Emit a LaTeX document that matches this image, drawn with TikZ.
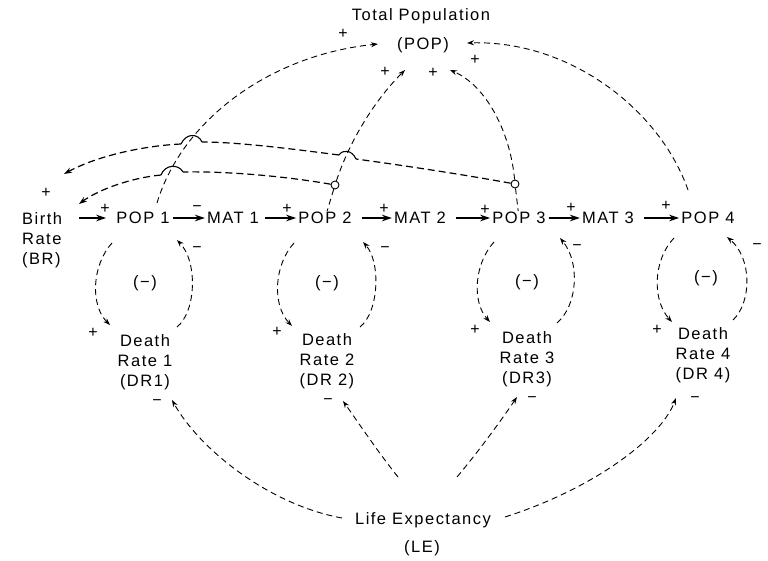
\documentclass[tikz,border=0pt]{standalone}
\usepackage{fontspec}
\setmainfont{Liberation Sans}[LetterSpace=9]
\usetikzlibrary{arrows.meta,calc}
\begin{document}
\begin{tikzpicture}[x=1pt,y=-1pt,
  lab/.style={font=\fontsize{16.5}{20}\selectfont, inner sep=0pt, align=center},
  sgn/.style={font=\fontsize{16}{16}\selectfont, inner sep=0pt},
  depn/.style={dash pattern=on 6pt off 4pt, line width=0.9pt},
  dep/.style={depn, -{Stealth[length=7pt,width=5pt]}},
  depb/.style={dash pattern=on 7pt off 4pt, line width=1.2pt},
  hop/.style={line width=1.1pt},
  flow/.style={line width=1.6pt, -{Stealth[length=10pt,width=6.5pt]}},
  junc/.style={circle, draw, line width=0.9pt, minimum size=8pt, inner sep=0pt, fill=white},
]
\useasboundingbox (0,0) rectangle (768,561);

% ---------- text nodes ----------
\node[lab] (tp)  at (421,16) {Total Population};
\node[lab] (pop) at (423,45) {(POP)};
\node[lab, align=left, anchor=north west] (br) at (22,212) {Birth\\Rate\\(BR)};
\node[lab] (pop1) at (143,218) {POP 1};
\node[lab] (mat1) at (233,218) {MAT 1};
\node[lab] (pop2) at (325,218) {POP 2};
\node[lab] (mat2) at (420,218) {MAT 2};
\node[lab] (pop3) at (519,218) {POP 3};
\node[lab] (mat3) at (608,218) {MAT 3};
\node[lab] (pop4) at (708,218) {POP 4};
\node[lab] (m1) at (145,283) {(−)};
\node[lab] (m2) at (327,283) {(−)};
\node[lab] (m3) at (527,282) {(−)};
\node[lab] (m4) at (706,278) {(−)};
\node[lab, anchor=north] (dr1) at (145,334) {Death\\Rate 1\\(DR1)};
\node[lab, anchor=north] (dr2) at (327,333) {Death\\Rate 2\\(DR 2)};
\node[lab, anchor=north] (dr3) at (527,331) {Death\\Rate 3\\(DR3)};
\node[lab, anchor=north] (dr4) at (703,327) {Death\\Rate 4\\(DR 4)};
\node[lab] (le)  at (423,520) {Life Expectancy};
\node[lab] (lea) at (422,548) {(LE)};

% ---------- junctions ----------
\node[junc] (c2) at (335,185) {};
\node[junc] (c3) at (515,184) {};

% ---------- flow arrows ----------
\draw[flow, shorten <=17pt, shorten >=10pt] (br.east |- pop1) -- (pop1);
\draw[flow, shorten <=3pt, shorten >=2pt] (pop1) -- (mat1);
\draw[flow, shorten <=6pt, shorten >=2pt] (mat1) -- (pop2);
\draw[flow, shorten <=10pt, shorten >=2pt] (pop2) -- (mat2);
\draw[flow, shorten <=10pt, shorten >=2pt] (mat2) -- (pop3);
\draw[flow, shorten <=3pt, shorten >=2pt] (pop3) -- (mat3);
\draw[flow, shorten <=10pt, shorten >=2pt] (mat3) -- (pop4);

\node[sgn] (s1) at (105,209) {+};
\node[sgn] (s2) at (197,209) {−};
\node[sgn] (s3) at (287,209) {+};
\node[sgn] (s4) at (384,209) {+};
\node[sgn] (s5) at (485,210) {+};
\node[sgn] (s6) at (571,208) {+};
\node[sgn] (s7) at (666,206) {+};

% ---------- endpoints of curved links ----------
\coordinate (p1t) at (157,203);
\coordinate (popw) at (378,44);
\coordinate (pop2e) at (405,70);
\coordinate (pop3e) at (450,70);
\coordinate (pop4s) at (688,190);
\coordinate (pope) at (467,43);
\coordinate (bru) at (64,174);
\coordinate (brl) at (79,204);

% POP i -> POP
\draw[dep] (p1t) .. controls (182,120) and (270,55) .. (popw);
\draw[depn, shorten >=1pt] (c2) -- (pop2);
\draw[dep] (c2) .. controls (350,140) and (375,100) .. (pop2e);
\draw[depn, shorten >=1pt] (c3) -- (pop3);
\draw[dep] (c3) .. controls (510,130) and (485,85) .. (pop3e);
\draw[dep] (pop4s) .. controls (660,110) and (570,40) .. (pope);
\node[sgn] (s8)  at (343,34) {+};
\node[sgn] (s9)  at (385,72) {+};
\node[sgn] (s10) at (433,73) {+};
\node[sgn] (s11) at (475,60) {+};

% upper feedback to BR (from POP 3 junction)
\coordinate (u1) at (356,159);
\coordinate (u2) at (339,155);
\coordinate (u3) at (202,142);
\coordinate (u4) at (181,144);
\draw[depb] (c3) .. controls (460,174) and (400,165) .. (u1);
\draw[hop] (u1) .. controls (352,150) and (343,149) .. (u2);
\draw[depb] (u2) .. controls (300,150) and (240,142) .. (u3);
\draw[hop] (u3) .. controls (198,133) and (186,133) .. (u4);
\draw[depb, -{Stealth[length=8pt,width=5.5pt]}] (u4) .. controls (140,146) and (95,157) .. (bru);

% lower feedback to BR (from POP 2 junction)
\coordinate (w1) at (183,172);
\coordinate (w2) at (161,175);
\draw[depb] (c2) .. controls (290,177) and (230,171) .. (w1);
\draw[hop] (w1) .. controls (179,164) and (165,164) .. (w2);
\draw[depb, -{Stealth[length=8pt,width=5.5pt]}] (w2) .. controls (130,178) and (98,190) .. (brl);
\node[sgn] (s12) at (46,193) {+};

% ---------- loops POP i <-> DR i ----------
\draw[dep] (112,243) .. controls (92,265) and (90,305) .. (110,325);
\draw[dep] (177,327) .. controls (196,312) and (198,262) .. (177,240);
\draw[dep] (294,243) .. controls (274,265) and (272,305) .. (292,326);
\draw[dep] (360,327) .. controls (379,312) and (381,262) .. (363,242);
\draw[dep] (494,242) .. controls (474,264) and (472,302) .. (490,322);
\draw[dep] (557,323) .. controls (578,305) and (580,262) .. (560,238);
\draw[dep] (674,238) .. controls (653,260) and (652,300) .. (672,322);
\draw[dep] (733,320) .. controls (752,302) and (752,258) .. (727,237);
\node[sgn] (s13) at (93,333) {+};
\node[sgn] (s14) at (197,250) {−};
\node[sgn] (s15) at (277,332) {+};
\node[sgn] (s16) at (385,250) {−};
\node[sgn] (s17) at (475,330) {+};
\node[sgn] (s18) at (577,248) {−};
\node[sgn] (s19) at (657,330) {+};
\node[sgn] (s20) at (757,247) {−};

% ---------- LE -> DR i ----------
\draw[dep] (342,518) .. controls (270,505) and (200,450) .. (172,400);
\draw[dep] (398,477) .. controls (378,452) and (360,425) .. (343,401);
\draw[dep] (457,477) .. controls (478,452) and (500,422) .. (517,397);
\draw[dep] (505,517) .. controls (590,490) and (660,440) .. (676,398);
\node[sgn] (s21) at (157,403) {−};
\node[sgn] (s22) at (328,402) {−};
\node[sgn] (s23) at (532,400) {−};
\node[sgn] (s24) at (695,400) {−};
\end{tikzpicture}
\end{document}
